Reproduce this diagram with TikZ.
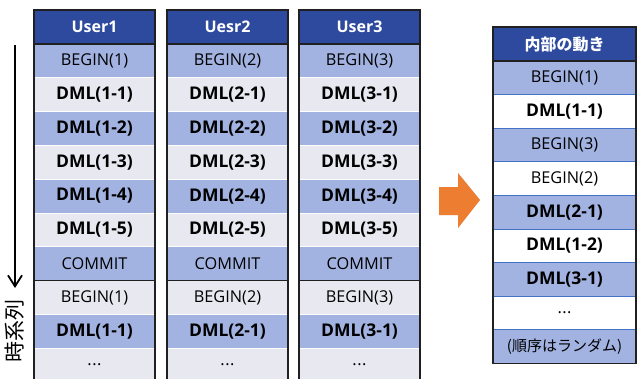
\documentclass[tikz,border=0pt]{standalone}
\usepackage{fontspec}
\setmainfont{Open Sans}
\newfontfamily\jpfont{Noto Sans CJK JP}
\usetikzlibrary{arrows.meta}
\definecolor{hdrblue}{RGB}{46,74,158}
\definecolor{rowblue}{RGB}{162,179,226}
\definecolor{rowgray}{RGB}{232,233,240}
\definecolor{sepblue}{RGB}{68,114,196}
\definecolor{arroworange}{RGB}{237,125,49}
\definecolor{edgedark}{RGB}{32,32,32}
\newcommand\celldots{.\kern0.5pt.\kern0.5pt.}
\newcommand\cellfont[1]{\if b#1\fontsize{17.5}{20}\bfseries\else\fontsize{16.3}{20}\mdseries\fi\selectfont}
\begin{document}
\begin{tikzpicture}[x=1pt,y=-1pt,
  cellbase/.style={anchor=north west, inner sep=0pt, outer sep=0pt, text=black},
  lcell/.style={cellbase, minimum width=121pt, minimum height=33.8pt, draw=white, line width=0.9pt},
  hdrcell/.style={cellbase, fill=hdrblue, text=white, font=\fontsize{16}{18}\selectfont\bfseries},
  rcell/.style={cellbase, minimum width=143pt, minimum height=33.6pt, draw=sepblue, line width=0.9pt},
  border/.style={draw=edgedark, line width=1.2pt},
  divider/.style={draw=edgedark, line width=1.6pt}]
\useasboundingbox (0,0) rectangle (639,378);
\clip (0,0) rectangle (639,378);

% ---- three user columns
\foreach \i/\x/\h in {1/34/User1, 2/167/Uesr2, 3/299/User3} {
  \node[hdrcell, minimum width=121pt, minimum height=34pt] (c\i h) at (\x,10) {\h};
  \foreach \t/\fc/\fw [count=\k] in {BEGIN(\i)/rowblue/m, DML(\i-1)/rowgray/b, DML(\i-2)/rowblue/b, DML(\i-3)/rowgray/b, DML(\i-4)/rowblue/b, DML(\i-5)/rowgray/b, COMMIT/rowblue/m, BEGIN(\i)/rowgray/m, DML(\i-1)/rowblue/b, \celldots/rowgray/m}
    \node[lcell, fill=\fc, font=\cellfont{\fw}] (c\i r\k) at (\x,{44+33.8*(\k-1)}) {\t};
  \path[border] (c\i h.north west) rectangle (c\i r10.south east);
  \path[divider] (c\i h.south west) -- (c\i h.south east);
  \path[divider] (c\i r7.south west) -- (c\i r7.south east);
}

% ---- internal behaviour column
\node[hdrcell, minimum width=143pt, minimum height=34pt, font=\jpfont\fontsize{16}{18}\selectfont\bfseries] (rh) at (493,27) {内部の動き};
\foreach \t/\fc/\fw [count=\k] in {BEGIN(1)/rowblue/m, DML(1-1)/white/b, BEGIN(3)/rowblue/m, BEGIN(2)/white/m, DML(2-1)/rowblue/b, DML(1-2)/white/b, DML(3-1)/rowblue/b, \celldots/white/m}
  \node[rcell, fill=\fc, font=\cellfont{\fw}] (r\k) at (493,{61+33.6*(\k-1)}) {\t};
\node[rcell, fill=rowblue, font=\jpfont\fontsize{15}{18}\selectfont] (r9) at (493,{61+33.6*8}) {(順序はランダム)};
\path[border] (rh.north west) rectangle (r9.south east);
\path[divider] (rh.south west) -- (rh.south east);

% ---- orange block arrow
\coordinate (oa) at (439,187);
\fill[black, opacity=0.18, shift={(2,2)}] (oa) -- ++(19,0) -- ++(0,-14) -- ++(22,27) -- ++(-22,28) -- ++(0,-13) -- ++(-19,0) -- cycle;
\fill[arroworange] (oa) -- ++(19,0) -- ++(0,-14) -- ++(22,27) -- ++(-22,28) -- ++(0,-13) -- ++(-19,0) -- cycle;

% ---- time axis
\coordinate (ta) at (15,45);
\coordinate (tb) at (15,288);
\draw[line width=1.8pt, -{Straight Barb[length=11pt,width=14pt,line width=1.8pt]}] (ta) -- (tb);
\node[rotate=90, font=\jpfont\fontsize{21}{22}\selectfont, inner sep=0pt] (tl) at (15,331) {時系列};
\end{tikzpicture}
\end{document}
